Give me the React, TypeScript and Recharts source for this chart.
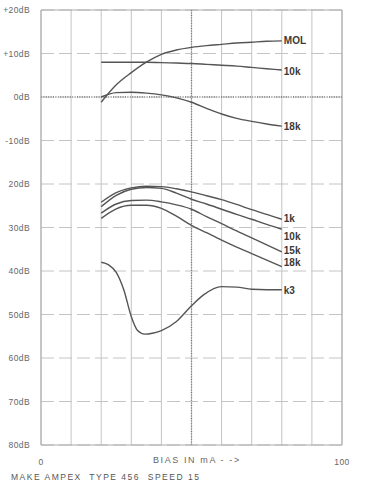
import { LineChart, Line, XAxis, YAxis, CartesianGrid, ReferenceLine } from 'recharts';

// bias current in mA for the sampled points
const biasMa = [20, 25, 30, 35, 40, 45, 50, 55, 60, 65, 70, 75, 80];

// upper group: MOL and saturation levels (dB re. reference)
const molDb = [-1.2, 2.8, 5.6, 8.0, 9.8, 10.8, 11.4, 11.8, 12.1, 12.4, 12.6, 12.8, 12.9];
const sat10kDb = [8.0, 8.0, 8.0, 8.0, 7.9, 7.8, 7.7, 7.5, 7.3, 7.1, 6.8, 6.5, 6.2];
const sat18kDb = [0.0, 1.0, 1.1, 0.9, 0.5, -0.2, -1.2, -2.6, -3.9, -4.9, -5.6, -6.2, -6.7];

// lower group: sensitivity at 1k / 10k / 15k / 18k
const sens1kDb = [-24.2, -22.0, -20.9, -20.5, -20.6, -21.1, -21.8, -22.7, -23.6, -24.7, -25.9, -27.0, -28.1];
const sens10kDb = [-25.2, -22.6, -21.2, -20.8, -21.0, -22.1, -23.5, -24.6, -25.8, -27.0, -28.1, -29.3, -30.4];
const sens15kDb = [-26.7, -24.6, -23.8, -23.7, -24.1, -24.8, -25.8, -27.5, -29.1, -30.8, -32.4, -34.0, -35.6];
const sens18kDb = [-27.9, -25.7, -24.9, -24.9, -25.6, -27.4, -29.5, -31.2, -32.9, -34.5, -36.0, -37.5, -39.0];

// third harmonic distortion, sampled more densely
const k3Ma = [20, 22.5, 25, 27.5, 30, 32, 34.5, 37, 40, 45, 50, 54, 60, 65, 70, 75, 80];
const k3Db = [-38.0, -38.6, -40.3, -44.3, -50.5, -53.6, -54.5, -54.3, -53.7, -51.6, -48.0, -45.5, -43.6, -43.7, -44.2, -44.3, -44.3];

const xTicks = [0, 10, 20, 30, 40, 50, 60, 70, 80, 90, 100];
const dbTicks = [20, 10, 0, -10, -20, -30, -40, -50, -60, -70, -80];
const pctTicks = [0, -10, -20, -30, -40, -50, -60];
const pctLabels = ['100%', '32%', '10%', '3.2%', '1.0%', '0.32%', '0.1%'];

const toRows = (xs: number[], ys: number[]) => xs.map((mA, i) => ({ mA, v: ys[i] }));

const series = [
  { name: 'MOL', rows: toRows(biasMa, molDb), dy: 0 },
  { name: '10k', rows: toRows(biasMa, sat10kDb), dy: 1 },
  { name: '18k', rows: toRows(biasMa, sat18kDb), dy: 0 },
  { name: '1k', rows: toRows(biasMa, sens1kDb), dy: -1 },
  { name: '10k', rows: toRows(biasMa, sens10kDb), dy: 7 },
  { name: '15k', rows: toRows(biasMa, sens15kDb), dy: -1 },
  { name: '18k', rows: toRows(biasMa, sens18kDb), dy: -4 },
  { name: 'k3', rows: toRows(k3Ma, k3Db), dy: 1 },
];

const ink = '#555';
const gridColor = '#c4c4c4';
const tickStyle = { fill: '#666', fontSize: 8.5, fontFamily: 'Liberation Sans, sans-serif', letterSpacing: 0.4 };

const dbLabel = (v: number) => (v > 0 ? `+${v}dB` : v === 0 ? '0dB' : v === -10 ? '-10dB' : `${-v}dB`);

const endLabel = (name: string, last: number, dy: number) => (props: any) => {
  if (props.index !== last) return null;
  return (
    <text
      x={props.x + 2}
      y={props.y + dy}
      dominantBaseline="central"
      fontSize={10}
      fontWeight="bold"
      fontFamily="Liberation Sans, sans-serif"
      fill="#3a3a3a"
    >
      {name}
    </text>
  );
};

export default function App() {
  return (
    <div style={{ position: 'relative', width: 380, height: 487, background: '#fff' }}>
      <style>{`body{margin:0}`}</style>
      <LineChart width={380} height={487} margin={{ top: 10, right: 0, left: 0, bottom: 22 }}>
        <CartesianGrid yAxisId="db" vertical={false} stroke={gridColor} strokeDasharray="13 5" />
        <CartesianGrid yAxisId="db" horizontal={false} stroke={gridColor} />
        <XAxis
          type="number"
          dataKey="mA"
          domain={[0, 100]}
          ticks={xTicks}
          interval={0}
          height={20}
          tickLine={false}
          axisLine={{ stroke: '#aaa' }}
          tickMargin={8}
          tick={tickStyle}
          tickFormatter={(v) => (v === 0 || v === 100 ? String(v) : '')}
        />
        <YAxis
          yAxisId="db"
          type="number"
          domain={[-80, 20]}
          ticks={dbTicks}
          interval={0}
          width={41}
          tickLine={false}
          axisLine={{ stroke: '#aaa' }}
          tickMargin={5}
          tick={tickStyle}
          tickFormatter={dbLabel}
        />
        <YAxis
          yAxisId="pct"
          orientation="right"
          type="number"
          domain={[-80, 20]}
          ticks={pctTicks}
          interval={0}
          width={38}
          tickSize={4}
          tickLine={{ stroke: '#aaa' }}
          axisLine={{ stroke: '#aaa' }}
          tickMargin={1}
          tick={tickStyle}
          tickFormatter={(v) => pctLabels[pctTicks.indexOf(v)] ?? ''}
        />
        <ReferenceLine yAxisId="db" y={20} stroke="#aaa" />
        <ReferenceLine yAxisId="db" y={0} stroke="#777" strokeWidth={1.6} strokeDasharray="1 1.4" />
        <ReferenceLine yAxisId="db" x={50} stroke="#777" strokeWidth={1.4} strokeDasharray="1 1.6" />
        {series.map((s, i) => (
          <Line
            key={i}
            yAxisId="db"
            data={s.rows}
            dataKey="v"
            type="monotone"
            stroke={ink}
            strokeWidth={1.4}
            dot={false}
            isAnimationActive={false}
            label={endLabel(s.name, s.rows.length - 1, s.dy)}
          />
        ))}
      </LineChart>
      <div
        style={{
          position: 'absolute',
          left: 153,
          top: 455,
          fontFamily: 'Liberation Sans, sans-serif',
          fontSize: 9,
          letterSpacing: 1.6,
          color: '#666',
          whiteSpace: 'pre',
        }}
      >
        BIAS IN mA - -&gt;
      </div>
      <div
        style={{
          position: 'absolute',
          left: 11,
          top: 472,
          fontFamily: 'Liberation Sans, sans-serif',
          fontSize: 8.5,
          letterSpacing: 1.5,
          color: '#555',
          whiteSpace: 'pre',
        }}
      >
        {'MAKE AMPEX  TYPE 456  SPEED 15'}
      </div>
    </div>
  );
}
